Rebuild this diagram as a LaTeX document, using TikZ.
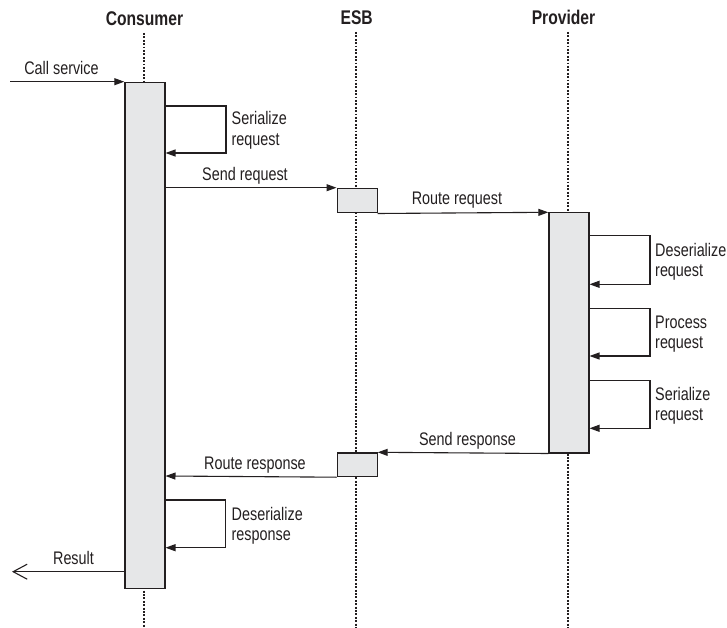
\documentclass[tikz,border=0pt]{standalone}
\usepackage{fontspec}
\setmainfont{Liberation Sans}[FakeStretch=0.79]
\usetikzlibrary{arrows.meta}
\definecolor{boxgray}{HTML}{E6E7E8}
\definecolor{ink}{HTML}{231F20}
\begin{document}
\begin{tikzpicture}[x=1pt,y=-1pt,
  actbox/.style={draw=ink, line width=1.2pt, fill=boxgray, inner sep=0pt, anchor=north west, minimum width=40pt},
  lifeline/.style={line width=1.9pt, dash pattern=on 1.9pt off 1.5pt, ink},
  msg/.style={draw=ink, line width=1.1pt, -{Triangle[length=10pt,width=7pt]}},
  retmsg/.style={draw=ink, line width=1.1pt, -{Straight Barb[length=14pt,width=15pt,line width=1.1pt]}},
  lbl/.style={text=ink, font=\fontsize{18.2}{20.5}\selectfont, inner sep=0pt, anchor=base},
  lbll/.style={text=ink, font=\fontsize{18.2}{20.5}\selectfont, inner sep=0pt, align=left, anchor=base west},
  ttl/.style={text=ink, font=\fontsize{19.8}{22}\selectfont\bfseries, inner sep=0pt, anchor=base}]
\useasboundingbox (0,0) rectangle (727,628);

% titles
\node[ttl] (tcons) at (144.5,26) {Consumer};
\node[ttl] (tesb) at (356.7,25) {ESB};
\node[ttl] (tprov) at (563.5,25) {Provider};

% lifelines
\coordinate (ctop) at (144.3,33);  \coordinate (cbot) at (144.3,628);
\coordinate (etop) at (356.3,32);  \coordinate (ebot) at (356.3,628);
\coordinate (ptop) at (568.3,32);  \coordinate (pbot) at (568.3,628);
\draw[lifeline] (ctop) -- (cbot);
\draw[lifeline] (etop) -- (ebot);
\draw[lifeline] (ptop) -- (pbot);

% activation boxes
\node[actbox, minimum height=506pt] (cbox) at (124.3,81.7) {};
\node[actbox, minimum height=24.6pt] (ebox1) at (336.5,187.7) {};
\node[actbox, minimum height=240pt] (pbox) at (548.3,212.3) {};
\node[actbox, minimum height=23.7pt] (ebox2) at (336.5,452.3) {};

% call service
\coordinate (callstart) at (10,81.7);
\draw[msg] (callstart) -- (cbox.north west);
\node[lbl] (lcall) at (61.5,75) {Call service};

% serialize request (consumer)
\draw[msg] ([yshift=-24.3pt]cbox.north east) -- (226,106) -- (226,153) -- ([yshift=-71.3pt]cbox.north east);
\node[lbll] (lser1) at (231.5,145.5) {Serialize\\request};

% send request
\draw[msg] ([yshift=-106pt]cbox.north east) -- (ebox1.north west);
\node[lbl] (lsend) at (245,180.7) {Send request};

% route request
\draw[msg] (ebox1.south east) -- (pbox.north west);
\node[lbl] (lroute) at (457,205) {Route request};

% provider loops
\draw[msg] ([yshift=-23.4pt]pbox.north east) -- (650,235.7) -- (650,284.3) -- ([yshift=-72pt]pbox.north east);
\node[lbll] (ldes) at (655,276.5) {Deserialize\\request};
\draw[msg] ([yshift=-96pt]pbox.north east) -- (650,308.3) -- (650,356) -- ([yshift=-143.7pt]pbox.north east);
\node[lbll] (lproc) at (655,348.5) {Process\\request};
\draw[msg] ([yshift=-168.4pt]pbox.north east) -- (650,380.7) -- (650,428.3) -- ([yshift=-216pt]pbox.north east);
\node[lbll] (lser2) at (655,420.5) {Serialize\\request};

% send response
\draw[msg] (pbox.south west) -- (ebox2.north east);
\node[lbl] (lsendr) at (467.5,445) {Send response};

% route response
\draw[msg] (ebox2.south west) -- ([yshift=-394.3pt]cbox.north east);
\node[lbl] (lrouter) at (255,469) {Route response};

% deserialize response
\draw[msg] ([yshift=-418.3pt]cbox.north east) -- (225.7,500) -- (225.7,547.7) -- ([yshift=-466pt]cbox.north east);
\node[lbll] (ldesr) at (231.5,540.5) {Deserialize\\response};

% result
\coordinate (resend) at (12,571.7);
\draw[retmsg] ([yshift=-490pt]cbox.north west) -- (resend);
\node[lbl] (lres) at (73.5,564) {Result};
\end{tikzpicture}
\end{document}
